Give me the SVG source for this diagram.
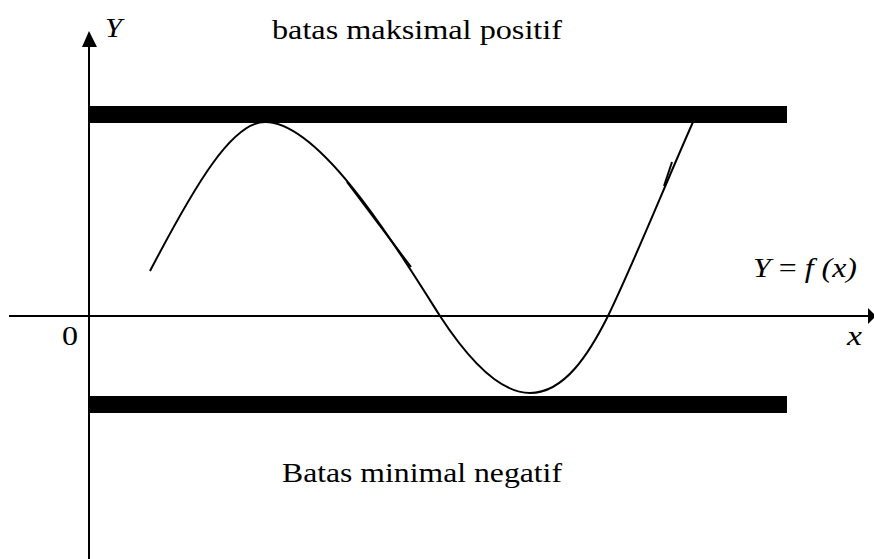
<svg xmlns="http://www.w3.org/2000/svg" width="874" height="559" viewBox="0 0 874 559">
<defs>
<style>
.t{font-family:"Liberation Serif","Times New Roman",serif;font-size:28px;fill:#000}
.i{font-style:italic}
.ax{stroke:#000;stroke-width:2;fill:none}
.cv{stroke:#000;stroke-width:2;fill:none}
</style>
</defs>
<rect width="874" height="559" fill="#fff"/>
<g id="axes">
<line class="ax" x1="89" y1="559" x2="89" y2="46"/>
<polygon points="89,31 82,47 97,47" fill="#000"/>
<line class="ax" x1="9" y1="316" x2="868" y2="316"/>
<polygon points="876,316 868,308 868,324" fill="#000"/>
</g>
<g id="bars">
<rect x="89" y="106" width="698" height="17" fill="#000"/>
<rect x="89" y="396" width="698" height="17" fill="#000"/>
</g>
<g id="curve">
<path class="cv" d="M150,271 C195,185 232,122 265,122 C320,122 395,245 440,316 C470,362 500,393 530,393 C565,393 590,352 608,316 C635,260 665,185 693,122"/>
<line class="cv" x1="347" y1="182" x2="411" y2="267"/>
<line class="cv" x1="672" y1="162" x2="664" y2="186"/>
</g>
<g id="labels">
<text class="t i" x="105" y="37" textLength="17" lengthAdjust="spacingAndGlyphs">Y</text>
<text class="t" x="272" y="39" textLength="290" lengthAdjust="spacingAndGlyphs">batas maksimal positif</text>
<text class="t" x="282" y="482" textLength="280" lengthAdjust="spacingAndGlyphs">Batas minimal negatif</text>
<text class="t" x="62" y="345" textLength="16" lengthAdjust="spacingAndGlyphs">0</text>
<text class="t i" x="847" y="345" textLength="15" lengthAdjust="spacingAndGlyphs">x</text>
<text class="t" x="753" y="277" textLength="104" lengthAdjust="spacingAndGlyphs"><tspan class="i">Y</tspan> = <tspan class="i">f (x)</tspan></text>
</g>
</svg>
